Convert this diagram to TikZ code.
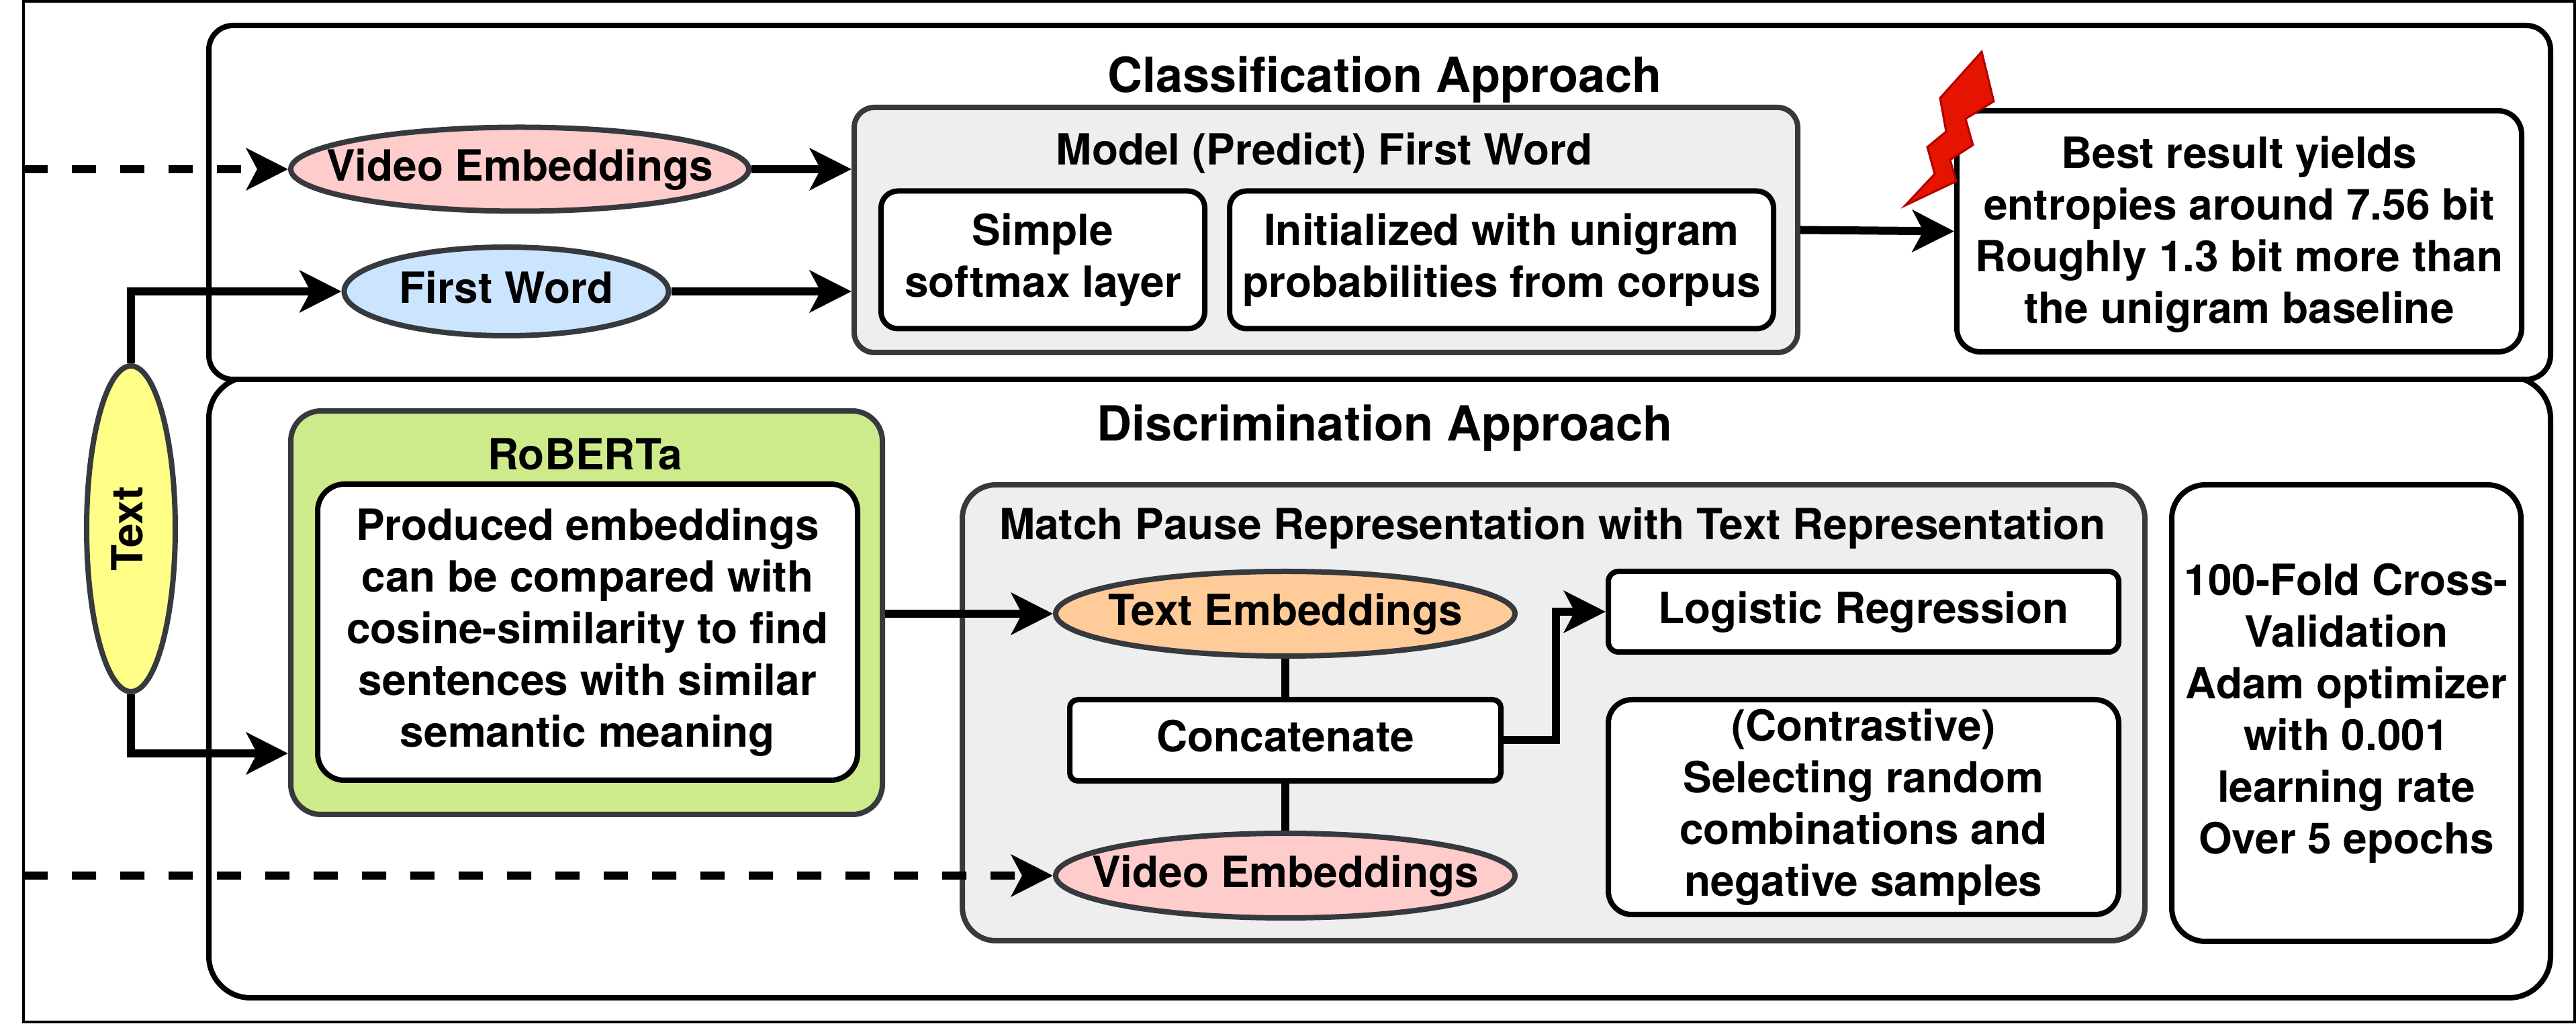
\documentclass[tikz,border=0pt]{standalone}
\usepackage{fontspec}
\setmainfont{TeX Gyre Heros}
\usetikzlibrary{arrows.meta, positioning, shapes.geometric}

\definecolor{strokegray}{HTML}{36393D}
\definecolor{panelgray}{HTML}{EEEEEE}
\definecolor{videopink}{HTML}{FFCCCC}
\definecolor{wordblue}{HTML}{CCE5FF}
\definecolor{textyellow}{HTML}{FFFF88}
\definecolor{textorange}{HTML}{FFCC99}
\definecolor{robertagreen}{HTML}{CDEB8B}
\definecolor{boltred}{HTML}{E51400}
\definecolor{boltedge}{HTML}{B20000}

% ellipse size must not follow the text width
\newcommand{\ovaltext}[1]{\makebox[0pt]{#1}}

\begin{document}
\begin{tikzpicture} [%
    on grid,
    >= {Stealth[length=6.2mm,width=6.2mm,inset=1.6mm]},
    every node/.style = {%
      font = \fontsize{18.2}{21.9}\selectfont\bfseries,
      align = center,
      inner sep = 0pt },
    oneline/.style = {%
      text height = 15pt,
      text depth = 5.3pt },
    approach/.style = {%
      draw, line width = .8mm, fill = white,
      rounded corners = #1 },
    panel/.style = {%
      draw = strokegray, line width = .8mm, fill = panelgray,
      rounded corners = 3mm },
    whitebox/.style = {%
      draw, line width = .8mm, fill = white,
      rounded corners = #1 },
    embedding/.style = {%
      ellipse, oneline, draw = strokegray, line width = .8mm,
      fill = #1 },
    title/.style = {%
      font = \fontsize{20.5}{24}\selectfont\bfseries },
    flow/.style = {%
      ->, line width = 1.2mm },
    pending/.style = {%
      ->, line width = 1.2mm,
      dash pattern = on 3.6mm off 3.6mm }
  ]

\useasboundingbox (0,0) rectangle (38.36,15.24);
\draw [line width = .4mm] (0.35,0.02) rectangle (38.34,15.22);

% the two approaches
\node [approach=6.2mm, minimum width=34.87cm, minimum height=9.25cm]
  (disc_box) at (20.545,5.005) {};
\node [approach=3.6mm, minimum width=34.87cm, minimum height=5.27cm]
  (class_box) at (20.545,12.225) {};
\node [title] (class_title) at (20.62,14.05) {Classification Approach};
\node [title] (disc_title) at (20.62,8.86) {Discrimination Approach};

\node [embedding=textyellow, rotate=90, minimum width=4.85cm, minimum height=1.32cm]
  (text_in) at (1.95,7.365) {\ovaltext{Text}};

% classification
\node [embedding=videopink, minimum width=6.82cm, minimum height=1.25cm]
  (video_1) at (7.74,12.72) {\ovaltext{Video Embeddings}};
\node [embedding=wordblue, minimum width=4.83cm, minimum height=1.32cm]
  (first_word) at (7.54,10.90) {\ovaltext{First Word}};

\node [panel, minimum width=14.05cm, minimum height=3.65cm]
  (model_box) at (19.745,11.815) {};
\node (model_title) at (19.72,12.96) {Model (Predict) First Word};
\node [whitebox=2.5mm, minimum width=4.82cm, minimum height=2.05cm]
  (softmax) at (15.53,11.37) {Simple\\softmax layer};
\node [whitebox=2.5mm, minimum width=8.10cm, minimum height=2.05cm]
  (unigram) [right=6.83cm of softmax] {Initialized with unigram\\probabilities from corpus};

\node [whitebox=3.5mm, minimum width=8.41cm, minimum height=3.59cm]
  (best) at (33.345,11.795) {\rule{0pt}{16pt}Best result yields\\entropies around 7.56 bit\\Roughly 1.3 bit more than\\the unigram baseline};

\draw [boltedge, fill=boltred, line width=.3mm]
  (29.51,14.47) -- (29.69,13.73) -- (29.27,13.47) -- (29.38,13.08) -- (29.04,12.86)
  -- (29.13,12.54) -- (28.37,12.18) -- (28.81,12.65) -- (28.70,13.05) -- (28.98,13.28)
  -- (28.89,13.78) -- cycle;

% discrimination
\node [draw=strokegray, fill=robertagreen, line width=.8mm, rounded corners=4.5mm,
       minimum width=8.81cm, minimum height=6.01cm]
  (roberta_box) at (8.735,6.115) {};
\node (roberta_title) at (8.71,8.48) {RoBERTa};
\node [whitebox=4mm, minimum width=8.04cm, minimum height=4.41cm]
  (produced) at (8.75,5.825) {Produced embeddings\\can be compared with\\cosine-similarity to find\\sentences with similar\\semantic meaning};

\node [panel, rounded corners=5mm, minimum width=17.61cm, minimum height=6.79cm]
  (match_box) at (23.135,4.625) {};
\node (match_title) at (23.12,7.37) {Match Pause Representation with Text Representation};

\node [embedding=textorange, minimum width=6.84cm, minimum height=1.26cm]
  (text_emb) at (19.14,6.10) {\ovaltext{Text Embeddings}};
\node [whitebox=1.2mm, oneline, minimum width=6.42cm, minimum height=1.21cm]
  (concat) [below=1.885cm of text_emb] {Concatenate};
\node [embedding=videopink, minimum width=6.84cm, minimum height=1.26cm]
  (video_2) [below=3.90cm of text_emb] {\ovaltext{Video Embeddings}};

\node [whitebox=1.5mm, oneline, minimum width=7.60cm, minimum height=1.20cm]
  (logistic) at (27.75,6.13) {Logistic Regression};
\node [whitebox=3.5mm, minimum width=7.60cm, minimum height=3.20cm]
  (contrast) [below=2.91cm of logistic] {(Contrastive)\\Selecting random\\combinations and\\negative samples};

\node [whitebox=5mm, minimum width=5.20cm, minimum height=6.80cm]
  (training) at (34.94,4.62) {100-Fold Cross-\\Validation\\Adam optimizer\\with 0.001\\learning rate\\Over 5 epochs};

\coordinate (video_in_1) at (0.35,12.72);
\coordinate (video_in_2) at (0.35,2.20);
\coordinate (roberta_in) at (roberta_box.west |- 0,4.02);

\draw [pending] (video_in_1) -- (video_1.west);
\draw [pending] (video_in_2) -- (video_2.west);

\draw [flow] (text_in.east) |- (first_word.west);
\draw [flow] (text_in.west) |- (roberta_in);
\draw [flow] (video_1.east) -- (model_box.west |- video_1);
\draw [flow] (first_word.east) -- (model_box.west |- first_word);
\draw [flow] (model_box.east) -- (best.west);
\draw [flow] (roberta_box.east |- text_emb) -- (text_emb.west);
\draw [flow] (concat.east) -- ++(0.78,0) |- (logistic.west);
\draw [line width=1.2mm] (text_emb.south) -- (concat.north);
\draw [line width=1.2mm] (concat.south) -- (video_2.north);

\end{tikzpicture}
\end{document}
